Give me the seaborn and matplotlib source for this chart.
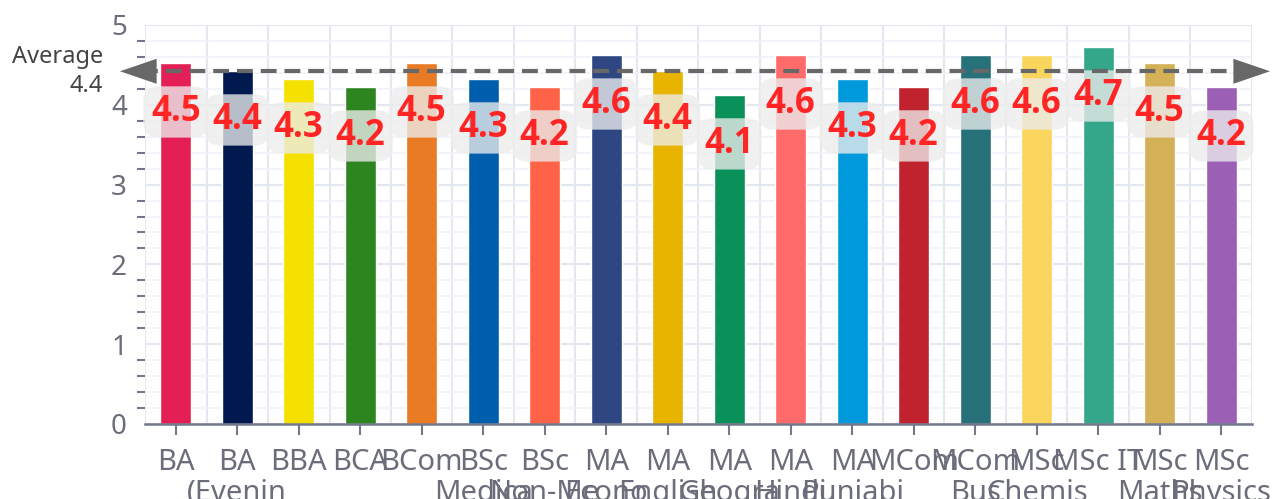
import matplotlib
matplotlib.use('Agg')
import matplotlib.pyplot as plt
import matplotlib.transforms as mtransforms
from matplotlib.ticker import MultipleLocator, FixedLocator
import numpy as np
import pandas as pd
import seaborn as sns

# Course names as they appear on the axis (wrapped, cut off)
courses = [
    "BA", "BA\n(Evenin", "BBA", "BCA", "BCom", "BSc\nMedica", "BSc\nNon-Me",
    "MA\nEcono", "MA\nEnglish", "MA\nGeogra", "MA\nHindi", "MA\nPunjabi",
    "MCom", "MCom\nBus", "MSc\nChemis", "MSc IT", "MSc\nMaths", "MSc\nPhysics",
]
ratings = [
    4.52, 4.42, 4.32, 4.22, 4.52, 4.32, 4.22, 4.62, 4.42,
    4.12, 4.62, 4.32, 4.22, 4.62, 4.62, 4.72, 4.52, 4.22,
]
bar_colors = [
    "#e31f55", "#001a4f", "#f5e100", "#2d851f", "#e87b24", "#005fad",
    "#ff6347", "#2e4783", "#e8b400", "#0a915a", "#ff6b6b", "#0099db",
    "#c0222e", "#26717a", "#f9d55e", "#34a689", "#d4b057", "#9b5fb5",
]

sns.set_theme(style='white')
plt.rcParams['font.family'] = ['Noto Sans', 'DejaVu Sans']

axis_grey = '#72778a'
text_grey = '#6b6e7a'

df = pd.DataFrame({'course': courses, 'rating': ratings})

fig = plt.figure(figsize=(12.72, 4.99), dpi=100)
ax = fig.add_axes([145 / 1272, 75 / 499, 1107 / 1272, 399 / 499])

sns.barplot(data=df, x='course', y='rating', hue='course', palette=bar_colors,
            width=0.5, saturation=1, legend=False, ax=ax)

ax.set_xlim(-0.5, len(courses) - 0.5)
ax.set_ylim(0, 5)
ax.set_xlabel('')
ax.set_ylabel('')

# grid: category boundaries vertically, 1 / 0.2 steps horizontally
ax.yaxis.set_major_locator(MultipleLocator(1))
ax.yaxis.set_minor_locator(MultipleLocator(0.2))
ax.xaxis.set_minor_locator(FixedLocator(np.arange(len(courses) + 1) - 0.5))
ax.grid(which='major', axis='y', color='#e3e7f0', lw=1.5)
ax.grid(which='minor', axis='y', color='#f0f2f8', lw=1.2)
ax.grid(which='minor', axis='x', color='#e3e7f0', lw=1.5)
ax.grid(which='major', axis='x', visible=False)
ax.set_axisbelow(True)

ax.tick_params(axis='x', which='major', length=8, width=1.5, color=axis_grey,
               labelsize=21, labelcolor=text_grey, pad=9, bottom=True)
ax.tick_params(axis='x', which='minor', length=0)
ax.tick_params(axis='y', which='major', length=0, labelsize=20,
               labelcolor=text_grey, pad=13)
ax.tick_params(axis='y', which='minor', length=6, width=1.5, color=axis_grey,
               left=True)
for lbl in ax.get_xticklabels():
    lbl.set_linespacing(1.1)

for side in ['top', 'right', 'left']:
    ax.spines[side].set_visible(False)
ax.spines['bottom'].set_color(axis_grey)
ax.spines['bottom'].set_linewidth(1.8)

# value labels inside bars
for i, v in enumerate(ratings):
    ax.text(i, v - 0.61, f"{v:.1f}", ha='center', va='center', fontsize=25,
            family=['Open Sans', 'DejaVu Sans'], fontweight='bold',
            color='#ff2525', zorder=5,
            bbox=dict(boxstyle='round,pad=0.22,rounding_size=0.45',
                      fc=(0.93, 0.93, 0.93, 0.78), ec='none'))

# average line with arrows at both ends
avg = np.mean(ratings)
trans = mtransforms.blended_transform_factory(ax.transAxes, ax.transData)
x_left, x_right = -0.0226, 1.0163
ax.plot([x_left + 0.02, x_right - 0.02], [avg, avg], transform=trans,
        ls=(0, (3.8, 1.9)), lw=3, color='#686868', clip_on=False, zorder=6)
for tip, base in [(x_left, x_left + 0.03), (x_right, x_right - 0.03)]:
    ax.annotate('', xy=(tip, avg), xytext=(base, avg), xycoords=trans,
                textcoords=trans, annotation_clip=False, zorder=6,
                arrowprops=dict(arrowstyle='-|>,head_length=2.2,head_width=0.75',
                                color='#686868', lw=0, shrinkA=0, shrinkB=0))
ax.text(-0.038, avg, f"Average\n{avg:.1f}", transform=trans, ha='right',
        va='center', multialignment='right', fontsize=17, color='#444444',
        linespacing=1.25)

fig.savefig('out.png', dpi=100)
